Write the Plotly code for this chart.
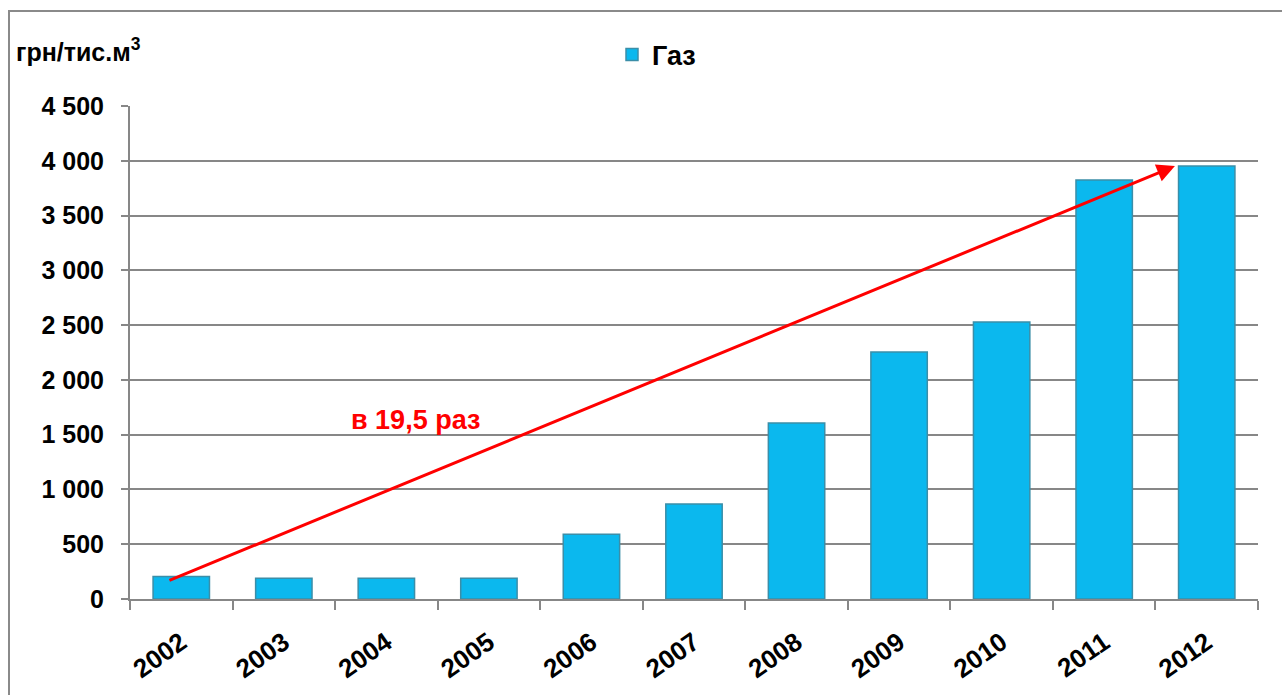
import plotly.graph_objects as go

years = ["2002", "2003", "2004", "2005", "2006", "2007", "2008", "2009", "2010", "2011", "2012"]
gas_prices = [205, 190, 190, 190, 590, 867, 1606, 2254, 2528, 3824, 3952]
y_tick_vals = [0, 500, 1000, 1500, 2000, 2500, 3000, 3500, 4000, 4500]
y_tick_text = ["0", "500", "1 000", "1 500", "2 000", "2 500", "3 000", "3 500", "4 000", "4 500"]
series_name = "Газ"
unit_label = "грн/тис.м<sup>3</sup>"
growth_label = "в 19,5 раз"

W, H = 1282, 695
L, R, T, B = 130, 24, 106, 96
pw, ph = W - L - R, H - T - B

FONT = "Liberation Sans, Arial, sans-serif"
GRID = "#878787"

fig = go.Figure()
fig.add_trace(go.Bar(
    x=years, y=gas_prices, name=series_name,
    marker=dict(color="#0bb8ee", line=dict(color="#3b8ea8", width=1.5)),
    showlegend=True,
))

# arrow from 2002 to 2012
fig.add_annotation(
    x=len(years) - 1 - 0.31, y=gas_prices[-1],
    ax=-0.13, ay=gas_prices[0] * 0.8,
    xref="x", yref="y", axref="x", ayref="y",
    showarrow=True, arrowhead=2, arrowsize=1.2, arrowwidth=3, arrowcolor="#ff0000",
    text="",
)
fig.add_annotation(
    x=2.28, y=1634, xref="x", yref="y", text=growth_label, showarrow=False,
    font=dict(family=FONT, size=27, color="#ff0000", weight="bold"),
)
fig.add_annotation(
    x=(14 - L) / pw, y=(H - B - 50) / ph, xref="paper", yref="paper",
    xanchor="left", yanchor="middle", text=unit_label, showarrow=False,
    font=dict(family=FONT, size=25, color="#000000", weight="bold"),
)
# outer frame
fig.add_shape(
    type="rect", xref="paper", yref="paper",
    x0=(9 - L) / pw, x1=(1300 - L) / pw, y0=(H - B - 720) / ph, y1=(H - B - 11) / ph,
    line=dict(color="#8a8a8a", width=2), fillcolor="rgba(0,0,0,0)", layer="below",
)

fig.update_layout(
    width=W, height=H,
    margin=dict(l=L, r=R, t=T, b=B, autoexpand=False),
    paper_bgcolor="white", plot_bgcolor="white",
    bargap=0.45,
    font=dict(family=FONT, color="#000000"),
    legend=dict(
        x=(612 - L) / pw, y=(H - B - 55) / ph, xanchor="left", yanchor="middle",
        orientation="h", font=dict(family=FONT, size=27, weight="bold"),
        bgcolor="rgba(0,0,0,0)", itemwidth=30,
    ),
    xaxis=dict(
        type="category", tickangle=-35, tickson="boundaries",
        ticks="outside", ticklen=9, tickwidth=2, tickcolor=GRID,
        showline=True, linecolor=GRID, linewidth=2,
        tickfont=dict(family=FONT, size=26, weight="bold"),
        showgrid=False, automargin=False, ticklabelstandoff=16,
    ),
    yaxis=dict(
        range=[0, 4500], tickvals=y_tick_vals, ticktext=y_tick_text,
        ticks="outside", ticklen=7, tickwidth=2, tickcolor=GRID,
        showline=True, linecolor=GRID, linewidth=2,
        showgrid=True, gridcolor=GRID, gridwidth=2,
        tickfont=dict(family=FONT, size=25, weight="bold"),
        ticklabelstandoff=12, zeroline=False, automargin=False,
    ),
)

fig.write_html(
    "out.html",
    config={"displayModeBar": False},
    post_script="document.body.style.margin='0';document.body.style.overflow='hidden';",
)
